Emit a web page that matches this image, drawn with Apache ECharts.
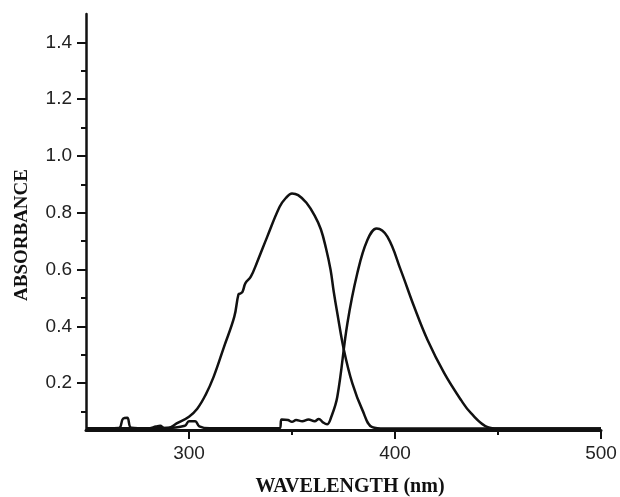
<!DOCTYPE html>
<html>
<head>
<meta charset="utf-8">
<script src="https://cdn.jsdelivr.net/npm/echarts@6/dist/echarts.min.js"></script>
<style>
  html, body { margin: 0; padding: 0; background: #fff; }
  #chart { width: 620px; height: 497px; }
</style>
</head>
<body>
<div id="chart"></div>
<script>
// spectrum B
var bWave = [250, 260, 266, 268, 270, 272, 280, 290, 294, 300, 304, 308, 312, 317, 322, 324, 325, 326, 327.4, 330, 333, 338, 344, 347, 350, 353, 357, 361, 364, 366.5, 368.7, 370.3, 372, 375.2, 379.3, 384.2, 389, 395, 500];
var bAbs  = [0.041, 0.041, 0.042, 0.075, 0.078, 0.043, 0.041, 0.042, 0.058, 0.082, 0.11, 0.158, 0.223, 0.328, 0.434, 0.512, 0.516, 0.522, 0.552, 0.575, 0.625, 0.716, 0.821, 0.852, 0.868, 0.862, 0.835, 0.79, 0.742, 0.675, 0.6, 0.52, 0.446, 0.317, 0.199, 0.105, 0.045, 0.04, 0.04];

// spectrum A
var aWave = [250, 280, 284, 286, 288, 298, 300, 303, 305, 310, 344, 345, 348, 350, 352, 355, 358, 361, 363, 365, 367, 369, 372, 376.9, 381.7, 386.6, 391.1, 396.3, 402.8, 409.3, 415.8, 423.9, 432, 436.9, 445, 450, 500];
var aAbs  = [0.041, 0.041, 0.047, 0.05, 0.042, 0.05, 0.066, 0.066, 0.048, 0.041, 0.042, 0.072, 0.07, 0.064, 0.07, 0.066, 0.072, 0.066, 0.074, 0.062, 0.055, 0.08, 0.152, 0.411, 0.587, 0.704, 0.745, 0.716, 0.598, 0.469, 0.352, 0.235, 0.141, 0.094, 0.045, 0.04, 0.04];

var xMajor = [300, 400, 500];
var xMinor = [350, 450];
var yMajor = [0.2, 0.4, 0.6, 0.8, 1.0, 1.2, 1.4];
var yMinor = [0.1, 0.3, 0.5, 0.7, 0.9, 1.1, 1.3];

function pairs(xs, ys) {
  return xs.map(function (x, i) { return [x, ys[i]]; });
}

var chart = echarts.init(document.getElementById('chart'), null, { renderer: 'canvas' });

var lineCol = '#111';
var tickLabel = { color: '#222', fontSize: 19, fontFamily: 'Liberation Sans, Arial, sans-serif' };

var option = {
  backgroundColor: '#fff',
  animation: false,
  grid: { left: 86, right: 19, top: 14, bottom: 67 },
  xAxis: [{
    type: 'value',
    min: 250,
    max: 500,
    axisLine: { onZero: false, lineStyle: { color: lineCol, width: 3 } },
    axisTick: { customValues: xMajor, length: 9, lineStyle: { color: lineCol, width: 2 } },
    axisLabel: Object.assign({ customValues: xMajor, margin: 14 }, tickLabel),
    splitLine: { show: false }
  }, {
    type: 'value',
    min: 250,
    max: 500,
    position: 'bottom',
    axisLine: { show: false },
    axisTick: { customValues: xMinor, length: 5, lineStyle: { color: lineCol, width: 2 } },
    axisLabel: { show: false },
    splitLine: { show: false }
  }],
  yAxis: [{
    type: 'value',
    min: 0.035,
    max: 1.5,
    axisLine: { show: true, onZero: false, lineStyle: { color: lineCol, width: 2.5 } },
    axisTick: { show: true, customValues: yMajor, length: 9, lineStyle: { color: lineCol, width: 2 } },
    axisLabel: Object.assign({ customValues: yMajor, margin: 14, formatter: function (v) { return v.toFixed(1); } }, tickLabel),
    splitLine: { show: false }
  }, {
    type: 'value',
    min: 0.035,
    max: 1.5,
    position: 'left',
    axisLine: { show: false },
    axisTick: { show: true, customValues: yMinor, length: 5, lineStyle: { color: lineCol, width: 2 } },
    axisLabel: { show: false },
    splitLine: { show: false }
  }],
  graphic: [{
    type: 'text',
    x: 350, y: 487,
    style: {
      text: 'WAVELENGTH (nm)',
      font: 'bold 20px "Liberation Serif", "Times New Roman", serif',
      fill: '#111',
      align: 'center',
      verticalAlign: 'middle'
    }
  }, {
    type: 'text',
    x: 22, y: 235,
    rotation: Math.PI / 2,
    style: {
      text: 'ABSORBANCE',
      font: 'bold 19px "Liberation Serif", "Times New Roman", serif',
      fill: '#111',
      align: 'center',
      verticalAlign: 'middle'
    }
  }],
  series: [{
    name: 'B',
    type: 'line',
    smooth: 0.4,
    symbol: 'none',
    data: pairs(bWave, bAbs),
    lineStyle: { color: lineCol, width: 2.5 },
    markPoint: {
      symbol: 'none',
      data: [{ coord: [350, 0.868] }],
      label: { show: true, formatter: 'B', offset: [2, -19], color: '#111', fontSize: 16, fontFamily: 'Liberation Sans, Arial, sans-serif' }
    }
  }, {
    name: 'A',
    type: 'line',
    smooth: 0.4,
    symbol: 'none',
    data: pairs(aWave, aAbs),
    lineStyle: { color: lineCol, width: 2.5 },
    markPoint: {
      symbol: 'none',
      data: [{ coord: [391.1, 0.745] }],
      label: { show: true, formatter: 'A', offset: [11, -18], color: '#111', fontSize: 16, fontFamily: 'Liberation Sans, Arial, sans-serif' }
    }
  }]
};

chart.setOption(option);
</script>
</body>
</html>
